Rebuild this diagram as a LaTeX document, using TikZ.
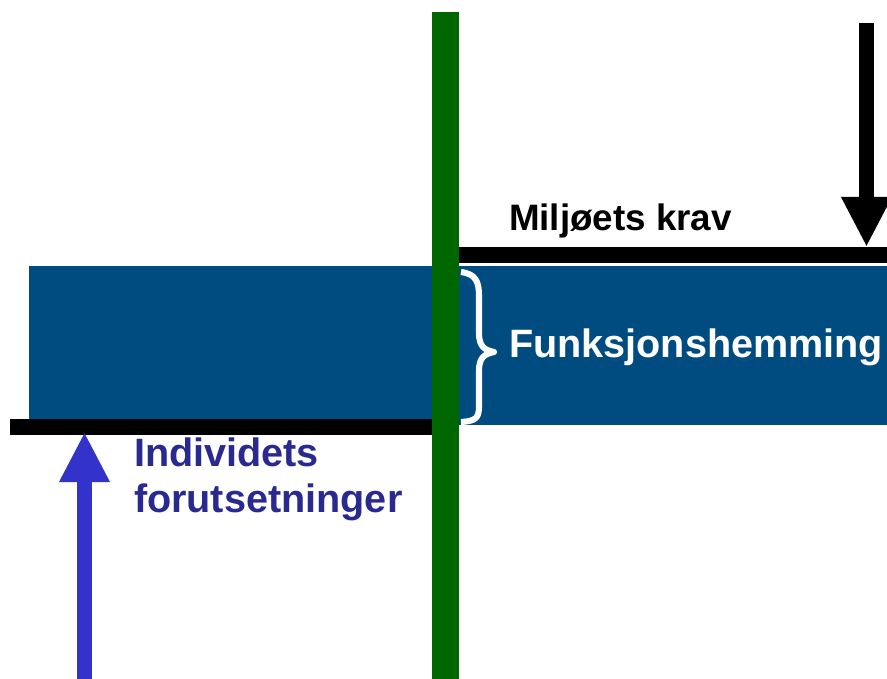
\documentclass[tikz,border=0pt]{standalone}
\usepackage{fontspec}
\setmainfont{Liberation Sans}
\usetikzlibrary{arrows.meta}
\definecolor{panelblue}{HTML}{004C80}
\definecolor{bargreen}{HTML}{006600}
\definecolor{textblue}{HTML}{29298F}
\definecolor{arrowblue}{HTML}{3333CC}
\begin{document}
\begin{tikzpicture}[x=0.03cm,y=-0.03cm,
  label/.style={inner sep=0pt,outer sep=0pt,anchor=base west,font=\bfseries\fontsize{33.8pt}{39.3pt}\selectfont},
  bigarrow/.style={line width=12.8pt,-{Triangle[length=1.5cm,width=1.41cm]}}]
\useasboundingbox (0,0) rectangle (887,679);
% blue panel
\fill[panelblue] (29,266) rectangle (887,425);
% black horizontal lines
\fill[black] (10,419) rectangle (432,435);
\fill[black] (459,247) rectangle (887,263);
% green vertical bar
\fill[bargreen] (432,12) rectangle (459,679);
% arrows
\coordinate (dtop) at (866.5,23);
\coordinate (dtip) at (866.5,247);
\coordinate (ubot) at (84.5,679);
\coordinate (utip) at (84.5,432);
\draw[bigarrow,black] (dtop) -- (dtip);
\draw[bigarrow,arrowblue] (ubot) -- (utip);
% brace
\draw[white,line width=5.2pt,line join=round]
  (461,272) .. controls (476,274) and (479,282) .. (479,296)
  -- (479,333) .. controls (479,346) and (484,350) .. (494,352)
  .. controls (484,354) and (479,358) .. (479,371)
  -- (479,406) .. controls (479,418) and (476,421) .. (461,422);
% labels
\node[label,font=\bfseries\fontsize{31.4pt}{36pt}\selectfont] (krav) at (509,231) {Miljøets krav};
\node[label,text=white] (funk) at (509,358) {Funksjonshemming};
\node[label,text=textblue] (indiv1) at (134,466) {Individets};
\node[label,text=textblue] (indiv2) at (134,512) {forutsetninger};
\end{tikzpicture}
\end{document}
